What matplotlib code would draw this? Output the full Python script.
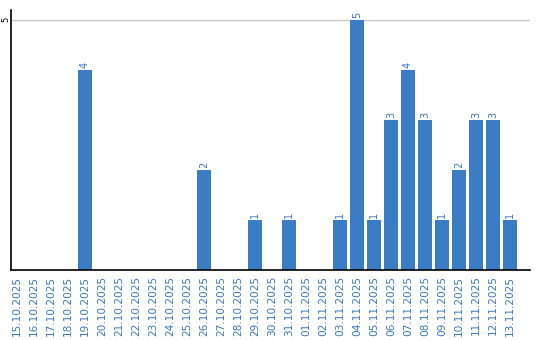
import matplotlib
matplotlib.use("Agg")
import matplotlib.pyplot as plt

dates = ["15.10.2025", "16.10.2025", "17.10.2025", "18.10.2025", "19.10.2025",
         "20.10.2025", "21.10.2025", "22.10.2025", "23.10.2025", "24.10.2025",
         "25.10.2025", "26.10.2025", "27.10.2025", "28.10.2025", "29.10.2025",
         "30.10.2025", "31.10.2025", "01.11.2025", "02.11.2025", "03.11.2025",
         "04.11.2025", "05.11.2025", "06.11.2025", "07.11.2025", "08.11.2025",
         "09.11.2025", "10.11.2025", "11.11.2025", "12.11.2025", "13.11.2025"]
counts = [0, 0, 0, 0, 4, 0, 0, 0, 0, 0, 0, 2, 0, 0, 1,
          0, 1, 0, 0, 1, 5, 1, 3, 4, 3, 1, 2, 3, 3, 1]

bar_color = "#3b7dc4"
label_color = "#3a78c0"

fig = plt.figure(figsize=(5.4, 3.4), dpi=100)
ax = fig.add_axes([0.0204, 0.206, 0.961, 0.765])

x = list(range(len(dates)))
bars = ax.bar(x, counts, width=0.82, color=bar_color, zorder=2)

for xi, c in zip(x, counts):
    if c > 0:
        ax.text(xi, c + 0.04, str(c), rotation=90, ha="center", va="bottom",
                fontsize=7, color=label_color)

ax.set_xlim(-0.35, 30.18)
ax.set_ylim(0, 5.2)
ax.set_yticks([5])
ax.set_yticklabels(["5"], rotation=90, va="center", fontsize=6)
ax.yaxis.grid(True, color="#c8c8c8", linewidth=1, zorder=0)
ax.tick_params(axis="y", length=0, pad=0.5)

ax.set_xticks(x)
ax.set_xticklabels(dates, rotation=90, fontsize=7.6, color=label_color)
ax.tick_params(axis="x", length=0, pad=4)

for side in ["top", "right"]:
    ax.spines[side].set_visible(False)
ax.spines["left"].set_linewidth(1.2)
ax.spines["bottom"].set_linewidth(1.2)

fig.savefig("out.png", dpi=100)
